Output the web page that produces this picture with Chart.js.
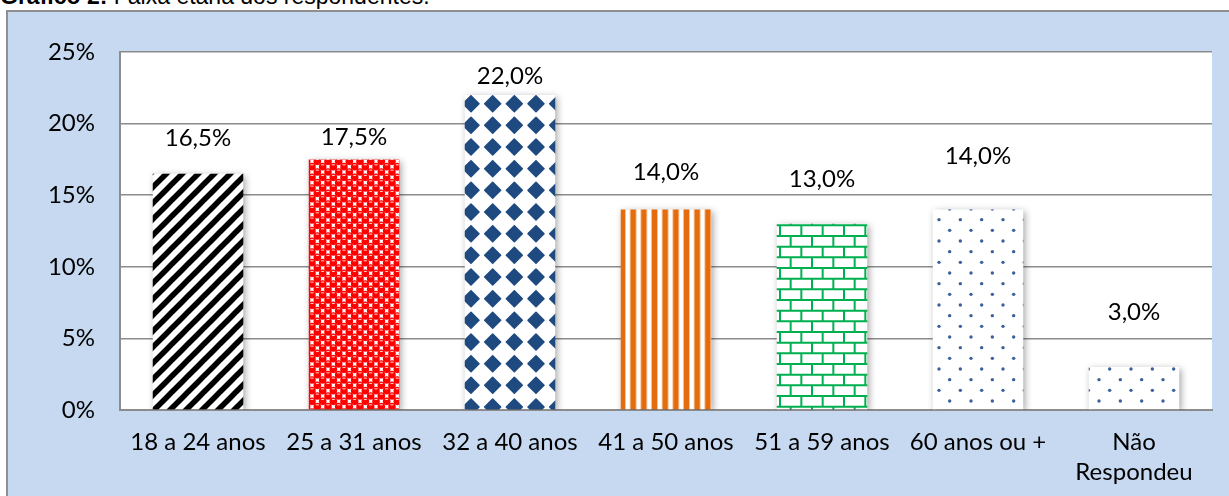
<!DOCTYPE html>
<html>
<head>
<meta charset="utf-8">
<script src="https://cdn.jsdelivr.net/npm/chart.js@4.4.1/dist/chart.umd.min.js"></script>
<style>
  html, body { margin: 0; padding: 0; background: #fff; overflow: hidden; width: 1229px; height: 496px; }
  #title { position: absolute; left: 0; top: -15px; font: 23px/22px "Liberation Sans", Arial, sans-serif; color: #000; white-space: nowrap; }
  #frame { position: absolute; left: 6px; top: 10px; width: 1300px; height: 600px; background: #c6d9f0; border: 2px solid #8f8f8f; }
  #wrap { position: absolute; left: 8px; top: 12px; width: 1221px; height: 484px; }
</style>
</head>
<body>
<div id="title"><b>Gráfico 2:</b> Faixa etária dos respondentes.</div>
<div id="frame"></div>
<div id="wrap"><canvas id="chart" width="1221" height="484"></canvas></div>
<script>
// data (percent of respondents)
const categories = ["18 a 24 anos", "25 a 31 anos", "32 a 40 anos", "41 a 50 anos", "51 a 59 anos", "60 anos ou +", ["Não", "Respondeu"]];
const percentValues = [16.5, 17.5, 22.0, 14.0, 13.0, 14.0, 3.0];
const yTicks = [0, 5, 10, 15, 20, 25];

const FONT = { family: "Lato, 'Open Sans', sans-serif", size: 24, lineHeight: 1.25 };

// small helper to build a pattern tile
function tile(w, h, draw) {
  const c = document.createElement("canvas");
  c.width = w;
  c.height = h;
  const g = c.getContext("2d");
  g.fillStyle = "#fff";
  g.fillRect(0, 0, w, h);
  draw(g, w, h);
  return c.getContext("2d").createPattern(c, "repeat");
}

const ctxMain = document.getElementById("chart").getContext("2d");

const stripes = tile(16, 16, (g, w, h) => {
  g.strokeStyle = "#000";
  g.lineWidth = 5.5;
  for (let k = -1; k <= 1; k++) {
    g.beginPath();
    g.moveTo(k * w - 2, h + 2);
    g.lineTo(k * w + w + 2, -2);
    g.stroke();
  }
});

// red spheres on a staggered grid, white squares left in the gaps
const balls = tile(32, 32, (g) => {
  const p = 32 / 3;
  const spots = [];
  for (let i = -1; i <= 3; i++) {
    for (let j = -1; j <= 3; j++) {
      spots.push([i * p, j * p], [i * p + p / 2, j * p + p / 2]);
    }
  }
  g.fillStyle = "#ff0000";
  spots.forEach(([cx, cy]) => {
    g.beginPath();
    g.arc(cx, cy, 3.8, 0, Math.PI * 2);
    g.fill();
  });
  g.fillStyle = "rgba(255,205,205,0.95)";
  spots.forEach(([cx, cy]) => g.fillRect(cx - 1.5, cy - 2.4, 3, 1.1));
});

const diamonds = tile(65, 65, (g) => {
  const p = 65 / 3;
  g.fillStyle = "#1f4a80";
  g.strokeStyle = "#1f4a80";
  g.lineJoin = "round";
  g.lineWidth = 1.5;
  for (let i = -1; i <= 3; i++) {
    for (let j = -1; j <= 3; j++) {
      const cx = i * p + 8, cy = j * p + 5, r = 8;
      g.beginPath();
      g.moveTo(cx, cy - r);
      g.lineTo(cx + r, cy);
      g.lineTo(cx, cy + r);
      g.lineTo(cx - r, cy);
      g.closePath();
      g.fill();
      g.stroke();
    }
  }
});

const vstripes = tile(32, 4, (g) => {
  const p = 32 / 3;
  for (let i = -1; i <= 3; i++) {
    const x = i * p + 4;
    g.fillStyle = "rgba(238,150,80,0.6)";
    g.fillRect(x - 1, 0, 7, 4);
    g.fillStyle = "#e46c0a";
    g.fillRect(x, 0, 5, 4);
  }
});

const bricks = tile(64, 64, (g) => {
  const p = 64 / 3, rh = 64 / 6;
  g.strokeStyle = "#00b050";
  g.lineWidth = 2;
  for (let r = 0; r <= 6; r++) {
    const y = r * rh;
    g.beginPath();
    g.moveTo(0, y);
    g.lineTo(64, y);
    g.stroke();
    const off = r % 2 ? p / 2 : 0;
    for (let k = -1; k <= 3; k++) {
      const x = k * p + off + 4;
      g.beginPath();
      g.moveTo(x, y);
      g.lineTo(x, y + rh);
      g.stroke();
    }
  }
});

const dots = tile(64, 64, (g) => {
  const p = 64 / 3, rh = 64 / 6;
  g.fillStyle = "#3b5f9c";
  for (let r = 0; r < 6; r++) {
    const off = r % 2 ? p / 2 : 0;
    for (let k = -1; k <= 3; k++) {
      g.beginPath();
      g.arc(k * p + off + 3, r * rh + 5, 1.7, 0, Math.PI * 2);
      g.fill();
    }
  }
});

const barFills = [stripes, balls, diamonds, vstripes, bricks, dots, dots];

const plotBackground = {
  id: "plotBackground",
  beforeDraw(chart) {
    const { ctx, chartArea: a } = chart;
    ctx.save();
    ctx.fillStyle = "#fff";
    ctx.fillRect(a.left, a.top, a.right - a.left, a.bottom - a.top);
    ctx.restore();
  },
};

const barShadow = {
  id: "barShadow",
  beforeDatasetsDraw(chart) {
    const ctx = chart.ctx;
    ctx.save();
    ctx.shadowColor = "rgba(0,0,0,0.35)";
    ctx.shadowBlur = 7;
    ctx.shadowOffsetX = 2;
    ctx.shadowOffsetY = 2;
  },
  afterDatasetsDraw(chart) {
    chart.ctx.restore();
  },
};

// value labels sit at different heights above each bar in the original
const valueLabels = {
  id: "valueLabels",
  afterDraw(chart, args, opts) {
    const ctx = chart.ctx;
    const meta = chart.getDatasetMeta(0);
    ctx.save();
    ctx.font = `${FONT.size}px ${FONT.family}`;
    ctx.fillStyle = "#000";
    ctx.textAlign = "center";
    ctx.textBaseline = "middle";
    meta.data.forEach((bar, i) => {
      const v = chart.data.datasets[0].data[i];
      const txt = v.toFixed(1).replace(".", ",") + "%";
      ctx.fillText(txt, bar.x, bar.y - opts.raise[i]);
    });
    ctx.restore();
  },
};

new Chart(ctxMain, {
  type: "bar",
  data: {
    labels: categories,
    datasets: [
      {
        data: percentValues,
        backgroundColor: barFills,
        borderWidth: 0,
        barPercentage: 0.58,
        categoryPercentage: 1,
      },
    ],
  },
  plugins: [plotBackground, barShadow, valueLabels],
  options: {
    responsive: false,
    animation: false,
    events: [],
    layout: { padding: { top: 35, right: 17, left: 0, bottom: 0 } },
    plugins: {
      legend: { display: false },
      tooltip: { enabled: false },
      valueLabels: { raise: [35, 22, 19, 37, 45, 53, 55] },
    },
    scales: {
      x: {
        grid: { display: false },
        border: { display: true, color: "#8c8c8c", width: 2 },
        ticks: {
          color: "#000",
          font: FONT,
          padding: 9,
          autoSkip: false,
          maxRotation: 0,
        },
        afterFit(scale) {
          scale.height = 86;
        },
      },
      y: {
        min: 0,
        max: 25,
        grid: { color: "#8c8c8c", lineWidth: 1.6, drawTicks: false },
        border: { display: true, color: "#8c8c8c", width: 2 },
        afterBuildTicks(scale) {
          scale.ticks = yTicks.map((v) => ({ value: v }));
        },
        ticks: {
          color: "#000",
          font: FONT,
          padding: 25,
          callback: (v) => v + "%",
        },
        afterFit(scale) {
          scale.width = 112;
        },
      },
    },
  },
});
</script>
</body>
</html>
